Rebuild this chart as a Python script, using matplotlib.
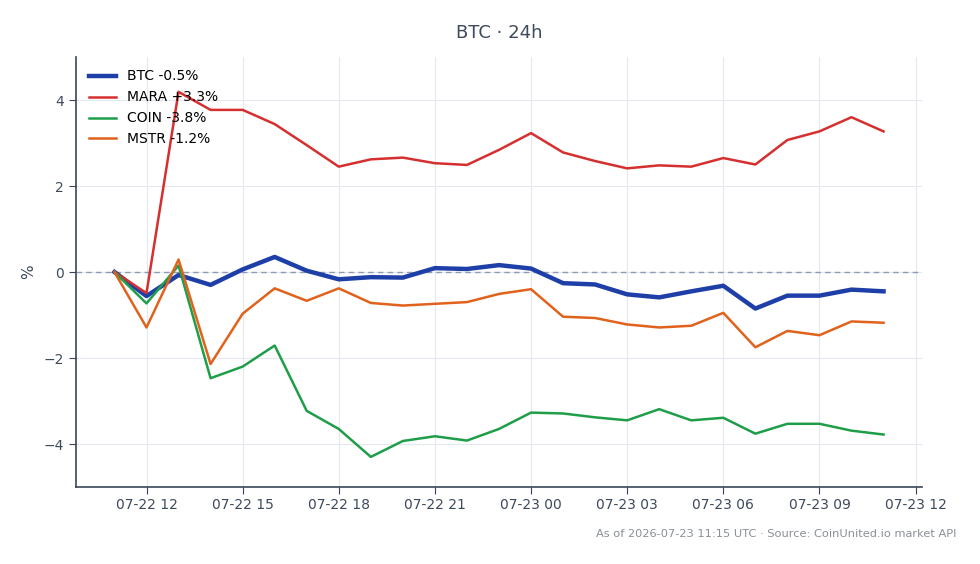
import numpy as np
import pandas as pd
import matplotlib
matplotlib.use("Agg")
from matplotlib import pyplot as plt
import matplotlib.dates as mdates

# hourly % change since 07-22 11:00
times = pd.date_range("2026-07-22 11:00", "2026-07-23 11:00", freq="h")

btc = [0.0, -0.56, -0.07, -0.30, 0.06, 0.35, 0.03, -0.17, -0.12, -0.13, 0.09, 0.07,
       0.16, 0.08, -0.26, -0.29, -0.52, -0.59, -0.45, -0.32, -0.85, -0.55, -0.55,
       -0.41, -0.45]
mara = [0.0, -0.49, 4.19, 3.77, 3.77, 3.44, 2.95, 2.45, 2.62, 2.66, 2.53, 2.49,
        2.84, 3.23, 2.78, 2.58, 2.41, 2.48, 2.45, 2.65, 2.50, 3.07, 3.27, 3.60, 3.27]
coin = [0.0, -0.73, 0.15, -2.47, -2.20, -1.71, -3.23, -3.65, -4.30, -3.93, -3.82,
        -3.92, -3.65, -3.27, -3.29, -3.38, -3.45, -3.19, -3.45, -3.39, -3.76, -3.53,
        -3.53, -3.69, -3.78]
mstr = [0.0, -1.29, 0.29, -2.14, -0.97, -0.38, -0.67, -0.38, -0.72, -0.78, -0.74,
        -0.70, -0.51, -0.40, -1.04, -1.07, -1.22, -1.29, -1.25, -0.95, -1.75, -1.37,
        -1.47, -1.15, -1.18]

series = [
    ("BTC", btc, "#1f3fa8", 3.2),
    ("MARA", mara, "#d62f2f", 1.8),
    ("COIN", coin, "#1f9e4a", 1.8),
    ("MSTR", mstr, "#e0621c", 1.8),
]

text_col = "#3d4a5c"

fig = plt.figure(figsize=(9.8, 5.64), dpi=100)
ax = fig.add_axes([76 / 980, 1 - 487 / 564, (922 - 76) / 980, (487 - 57) / 564])

for name, vals, col, lw in series:
    label = f"{name} {vals[-1]:+.1f}%"
    ax.plot(times, vals, color=col, lw=lw, label=label, zorder=3)

ax.axhline(0, color="#8f9bb3", lw=1, ls=(0, (4, 3)), zorder=2)

ax.set_ylim(-5, 5)
ax.set_yticks([-4, -2, 0, 2, 4])
ax.xaxis.set_major_locator(mdates.HourLocator(byhour=[0, 3, 6, 9, 12, 15, 18, 21]))
ax.xaxis.set_major_formatter(mdates.DateFormatter("%m-%d %H"))

ax.grid(True, color="#e3e7ee", lw=0.8, zorder=0)
for s in ["top", "right"]:
    ax.spines[s].set_visible(False)
for s in ["left", "bottom"]:
    ax.spines[s].set_color("#3a4556")
    ax.spines[s].set_linewidth(1.2)
ax.tick_params(colors="#3a4556", labelcolor=text_col, labelsize=10, length=5)
ax.tick_params(axis="x", pad=3)

ax.set_ylabel("%", color=text_col, fontsize=11, labelpad=2)
ax.yaxis.set_label_coords(-40 / 846, 0.5)
ax.set_title("BTC · 24h", color=text_col, fontsize=13, pad=14)

ax.legend(loc="upper left", frameon=False, fontsize=10, handlelength=2.0,
          borderaxespad=0.5, labelspacing=0.5)

fig.text(956 / 980, 1 - 534 / 564, "As of 2026-07-23 11:15 UTC · Source: CoinUnited.io market API",
         ha="right", va="center", fontsize=8.2, color="#8a8f98")

fig.savefig("out.png", dpi=100, facecolor="white")
